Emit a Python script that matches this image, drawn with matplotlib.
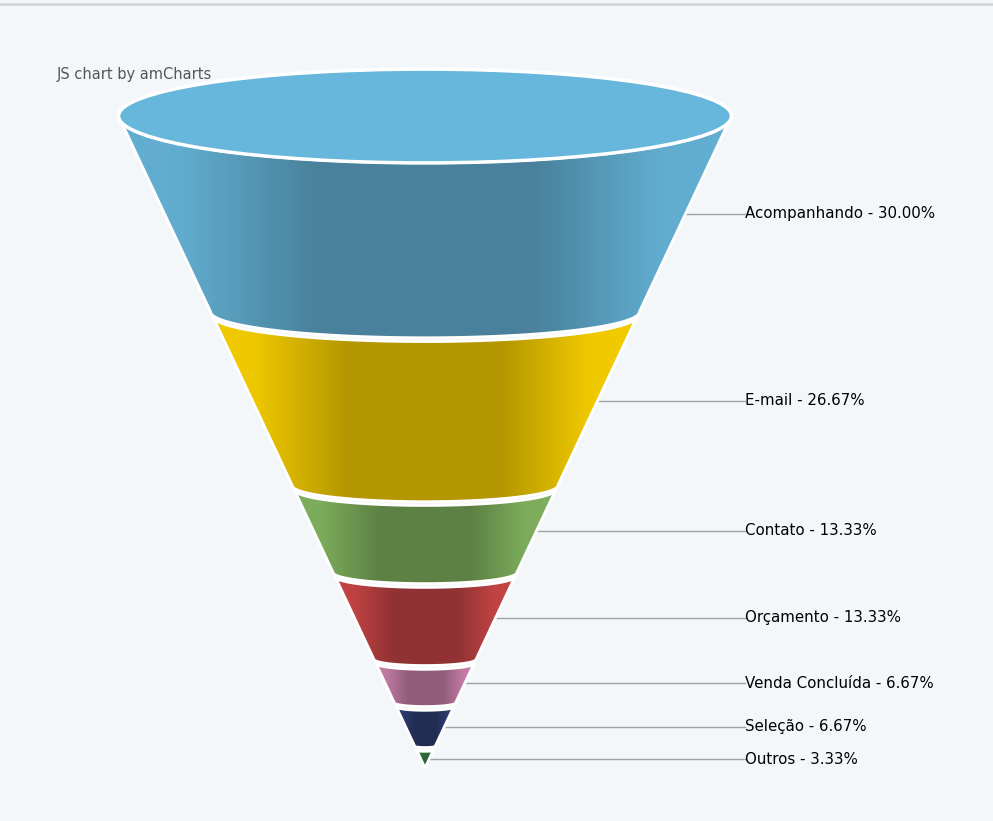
import numpy as np
import matplotlib
matplotlib.use("Agg")
import matplotlib.pyplot as plt
from matplotlib.patches import Polygon, Ellipse
from matplotlib.colors import to_rgb

# funnel data
stages = ["Acompanhando", "E-mail", "Contato", "Orçamento",
          "Venda Concluída", "Seleção", "Outros"]
shares = [30.00, 26.67, 13.33, 13.33, 6.67, 6.67, 3.33]
stage_colors = ["#67b7dc", "#fdd400", "#84b761", "#cc4748",
                "#cd82ad", "#2f4074", "#448e4d"]

# geometry (pixel space)
cx = 425
top_y = 116
apex_y = 768
slope = 0.47
gap = 4
top_ratio = 0.153
arc_ratio = 0.122
label_x = 745


def half_width(y):
    return slope * (apex_y - y)


def shade_row(color, n=300):
    base = np.array(to_rgb(color))
    t = np.linspace(0, 1, n)
    f = np.interp(t, [0, 0.1, 0.32, 0.68, 0.88, 1.0],
                  [0.95, 0.94, 0.71, 0.71, 0.94, 0.96])
    row = base[None, :] * f[:, None]
    return np.clip(row, 0, 1)[None, :, :].repeat(2, axis=0)


fig = plt.figure(figsize=(9.93, 8.21), dpi=100)
fig.patch.set_facecolor("#f4f7fa")
ax = fig.add_axes([0, 0, 1, 1])
ax.set_facecolor("#f4f7fa")

ax.plot([0, 993], [4, 4], color="#d2d7dd", lw=2, zorder=1)

height = apex_y - top_y
total = sum(shares)
theta = np.linspace(np.pi, 0, 80)

remaining = total
y_t = top_y
for i, (name, val, col) in enumerate(zip(stages, shares, stage_colors)):
    remaining -= val
    y_b = apex_y - height * max(remaining, 0) / total
    wt, wb = half_width(y_t), half_width(y_b)
    et = wt * (top_ratio if i == 0 else arc_ratio)
    eb = wb * arc_ratio

    top_arc = np.column_stack([cx + wt * np.cos(theta), y_t + et * np.sin(theta)])
    bot_arc = np.column_stack([cx + wb * np.cos(theta[::-1]), y_b + eb * np.sin(theta[::-1])])
    pts = np.vstack([top_arc, bot_arc])

    poly = Polygon(pts, closed=True, facecolor="none", edgecolor="white",
                   lw=2, zorder=3, joinstyle="round")
    ax.add_patch(poly)
    im = ax.imshow(shade_row(col), extent=(cx - wt, cx + wt, y_b + eb + 2, y_t - et - 2),
                   aspect="auto", interpolation="bilinear", zorder=2)
    im.set_clip_path(poly)

    if i == 0:
        ax.add_patch(Ellipse((cx, y_t), 2 * wt, 2 * et, facecolor=col,
                             edgecolor="white", lw=2.5, zorder=4))

    y_mid = (y_t + y_b) / 2
    ax.plot([cx + half_width(y_mid), label_x], [y_mid, y_mid],
            color="#a0a4a8", lw=1, zorder=1)
    ax.text(label_x, y_mid, f"{name} - {val:.2f}%", fontsize=10.8,
            color="black", va="center", ha="left", zorder=5)

    y_t = y_b + gap

ax.text(57, 74, "JS chart by amCharts", fontsize=10.5, color="#555555",
        va="center", ha="left", zorder=5)

ax.set_xlim(0, 993)
ax.set_ylim(821, 0)
ax.axis("off")
fig.savefig("out.png", dpi=100, facecolor=fig.get_facecolor())
